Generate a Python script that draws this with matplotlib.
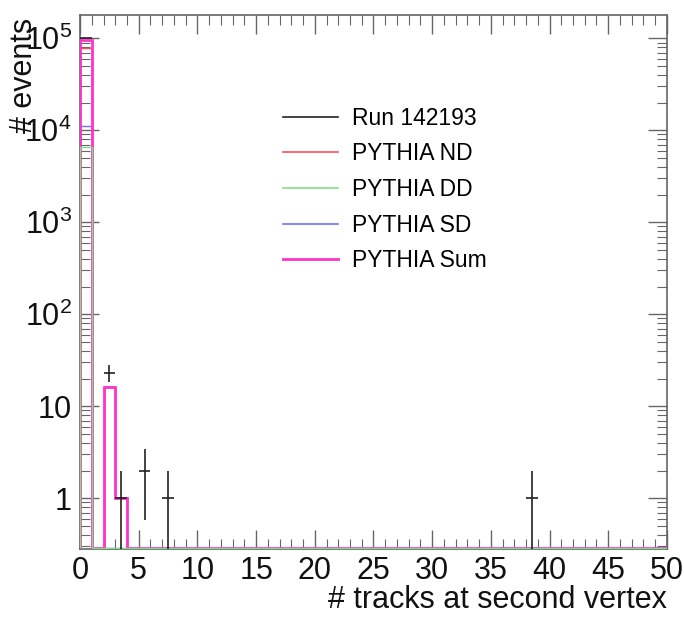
import numpy as np
import matplotlib
matplotlib.use("Agg")
import matplotlib.pyplot as plt
from matplotlib.ticker import FixedLocator, FuncFormatter, LogLocator, NullFormatter

plt.rcParams['font.family'] = ['Liberation Sans', 'DejaVu Sans']

# histogram binning: 50 unit-width bins from 0 to 50
edges = np.arange(0, 51, 1)

# MC components, bins with no entries left at zero
nd = np.zeros(50)
nd[[0, 2, 3]] = [7.8e4, 16.0, 1.0]
dd = np.zeros(50)
dd[[0]] = [6.6e3]
sd = np.zeros(50)
sd[[0]] = [1.1e4]
mc_sum = nd + dd + sd

# data points (Run 142193)
data_bins = np.array([0, 2, 3, 5, 7, 38])
data_counts = np.array([1.0e5, 23, 1, 2, 1, 1])

ymin, ymax = 0.28, 1.8e5
floor = 0.29  # empty bins drawn on the floor of the log axis

fig = plt.figure(figsize=(6.84, 6.17), dpi=100)
ax = fig.add_axes([0.117, 0.110, 0.858, 0.866])
ax.set_yscale('log')


def fill(h):
    return np.where(h > 0, h, floor)


ax.stairs(fill(nd), edges, color='#ff5050', lw=1.0, baseline=floor, label='PYTHIA ND', zorder=2)
ax.stairs(fill(sd), edges, color='#7070ff', lw=1.0, baseline=floor, label='PYTHIA SD', zorder=2.1)
ax.stairs(fill(mc_sum), edges, color='#ff33cc', lw=2.0, baseline=floor, label='PYTHIA Sum', zorder=2.2)
ax.stairs(fill(dd), edges, color='#80e080', lw=1.0, baseline=floor, label='PYTHIA DD', zorder=2.3)

centers = data_bins + 0.5
err = np.sqrt(data_counts)
lo = np.minimum(err, data_counts - ymin)
ax.errorbar(centers, data_counts, xerr=0.5, yerr=[lo, err], fmt='none',
            ecolor='#222222', elinewidth=1.2, capsize=0, zorder=5)
ax.plot([], [], color='#222222', lw=1.2, label='Run 142193')

ax.set_xlim(0, 50)
ax.set_ylim(ymin, ymax)

ax.xaxis.set_major_locator(FixedLocator(np.arange(0, 51, 5)))
ax.xaxis.set_minor_locator(FixedLocator(np.arange(0, 51, 1)))
ax.yaxis.set_major_locator(LogLocator(base=10, numticks=10))
ax.yaxis.set_minor_locator(LogLocator(base=10, subs=np.arange(2, 10), numticks=20))
ax.yaxis.set_minor_formatter(NullFormatter())


def ylab(v, pos):
    e = int(round(np.log10(v)))
    if e == 0:
        return '1'
    if e == 1:
        return '10'
    return r'$\mathregular{10^{%d}}$' % e


ax.yaxis.set_major_formatter(FuncFormatter(ylab))

frame = '#666666'
for s in ax.spines.values():
    s.set_color(frame)
    s.set_linewidth(1.2)
    s.set_zorder(1.5)
ax.tick_params(which='both', direction='in', top=True, right=True, colors=frame,
               labelcolor='#111111', labelsize=22)
ax.tick_params(which='major', length=14, width=1.0)
ax.tick_params(which='minor', length=7, width=0.8)
ax.tick_params(axis='x', pad=5)
ax.tick_params(axis='y', pad=6)

ax.set_xlabel('# tracks at second vertex', fontsize=22, loc='right', color='#111111')
ax.xaxis.set_label_coords(1.0, -0.068)
ax.set_ylabel('# events', fontsize=22, loc='top', color='#111111')
ax.yaxis.set_label_coords(-0.07, 0.995)

handles, labels = ax.get_legend_handles_labels()
order = [labels.index(n) for n in
         ['Run 142193', 'PYTHIA ND', 'PYTHIA DD', 'PYTHIA SD', 'PYTHIA Sum']]
leg = ax.legend([handles[i] for i in order], [labels[i] for i in order],
                loc='upper left', bbox_to_anchor=(0.346, 0.828), frameon=False,
                borderaxespad=0, borderpad=0,
                fontsize=16.5, handlelength=2.4, labelspacing=0.55, handletextpad=0.6)
for line in leg.get_lines():
    line.set_linewidth(1.2)
leg.get_lines()[4].set_linewidth(2.0)

fig.savefig('out.png', dpi=100)
